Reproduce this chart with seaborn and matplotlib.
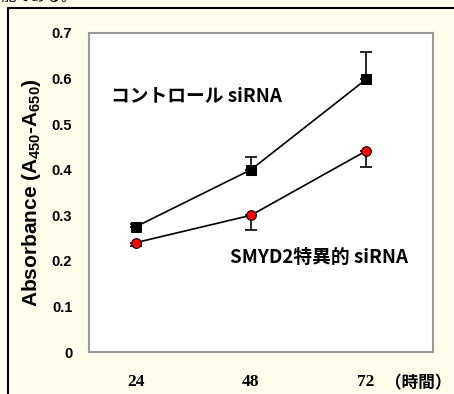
import matplotlib
matplotlib.use("Agg")
import matplotlib.pyplot as plt
from matplotlib.lines import Line2D
import seaborn as sns
import pandas as pd

# ── data ──────────────────────────────────────────────────────────────────────
hours        = [24, 48, 72]
control_mean = [0.275, 0.400, 0.598]
control_err  = [0.005, 0.028, 0.060]   # drawn upward only
smyd2_mean   = [0.240, 0.300, 0.441]
smyd2_err    = [0.008, 0.032, 0.035]   # drawn downward only
y_ticks      = [0, 0.1, 0.2, 0.3, 0.4, 0.5, 0.6, 0.7]
y_ticklabels = ["0", "0.1", "0.2", "0.3", "0.4", "0.5", "0.6", "0.7"]

BG = "#fffdec"
JP = ["Noto Sans CJK JP", "Liberation Sans", "DejaVu Sans"]

sns.set_theme(style="white")
plt.rcParams["font.family"] = ["Liberation Sans", "Noto Sans CJK JP", "DejaVu Sans"]
plt.rcParams["mathtext.fontset"] = "custom"
plt.rcParams["mathtext.bf"] = "Liberation Sans:bold"
plt.rcParams["mathtext.rm"] = "Liberation Sans:bold"
plt.rcParams["mathtext.default"] = "bf"
for key in ["text.color", "axes.labelcolor", "xtick.color", "ytick.color"]:
    plt.rcParams[key] = "black"

df = pd.DataFrame({
    "hours": hours * 2,
    "value": control_mean + smyd2_mean,
    "group": ["control"] * 3 + ["smyd2"] * 3,
})

fig = plt.figure(figsize=(4.54, 3.94), dpi=100, facecolor=BG)
ax = fig.add_axes([89 / 454, 1 - 352 / 394, 344 / 454, 319 / 394])
ax.set_facecolor("white")

# error bars (one-sided, as in the original)
ax.errorbar(hours, control_mean, yerr=[[0] * 3, control_err], fmt="none",
            ecolor="black", elinewidth=1.2, capsize=4, capthick=1.2, zorder=2)
ax.errorbar(hours, smyd2_mean, yerr=[smyd2_err, [0] * 3], fmt="none",
            ecolor="black", elinewidth=1.2, capsize=4, capthick=1.2, zorder=2)

sns.lineplot(data=df[df.group == "control"], x="hours", y="value", ax=ax,
             color="black", lw=1.2, marker="s", markersize=7,
             markerfacecolor="black", markeredgecolor="black", zorder=3)
sns.lineplot(data=df[df.group == "smyd2"], x="hours", y="value", ax=ax,
             color="black", lw=1.2, marker="o", markersize=7,
             markerfacecolor="red", markeredgecolor="black", zorder=3)

ax.set_xlim(14.2, 86)
ax.set_ylim(0, 0.7)
ax.set_yticks(y_ticks)
ax.set_yticklabels(y_ticklabels, fontweight="bold", fontsize=10.5)
ax.set_xticks(hours)
ax.set_xticklabels([str(h) for h in hours], family="Liberation Serif",
                   fontweight="bold", fontsize=12.5)
ax.tick_params(axis="y", direction="out", length=6, width=1.2, color="black", pad=6)
ax.tick_params(axis="x", direction="in", length=10, width=1.2, color="black", pad=16)
ax.set_xlabel("")
ax.set_ylabel("Absorbance (A$_{450}$-A$_{650}$)", fontweight="bold",
              fontsize=15, labelpad=6)
for s in ax.spines.values():
    s.set_color("#9a9a9a")
    s.set_linewidth(1.5)

ax.text(0.065, 0.805, "コントロール siRNA", transform=ax.transAxes,
        family=JP, fontweight="bold", fontsize=13.5, va="center")
ax.text(0.41, 0.295, "SMYD2特異的 siRNA", transform=ax.transAxes,
        family=JP, fontweight="bold", fontsize=13.5, va="center")
fig.text(451 / 454, 1 - 383 / 394, "（時間）", family=JP, fontweight="bold",
         fontsize=12, ha="right", va="center")

# outer frame of the source document and the clipped line of text above it
fig.add_artist(Line2D([8 / 454, 8 / 454], [0, 1 - 8 / 394], color="black",
                      lw=1.5, transform=fig.transFigure))
fig.add_artist(Line2D([8 / 454, 1], [1 - 8 / 394, 1 - 8 / 394], color="black",
                      lw=1.5, transform=fig.transFigure))
fig.text(0.0, 1 - 5 / 394, "能である。", family=JP, fontsize=11, va="bottom")

fig.savefig("out.png", dpi=100, facecolor=BG)
